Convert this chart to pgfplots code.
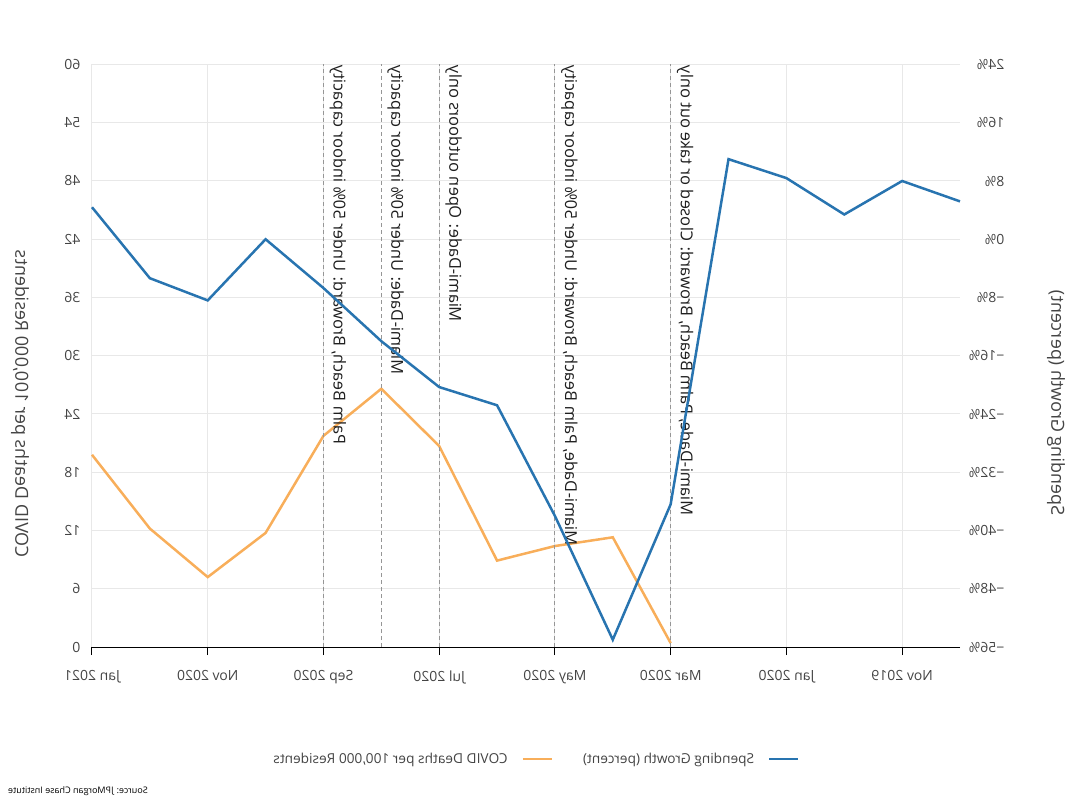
\documentclass[border=0pt]{standalone}
\usepackage{fontspec}
\setmainfont{Open Sans}
\usepackage{graphicx}
\usepackage{pgfplots}
\pgfplotsset{compat=1.18}
\definecolor{cblue}{RGB}{40,116,176}
\definecolor{corange}{RGB}{248,174,90}
\definecolor{tickgray}{RGB}{68,68,68}
\definecolor{gridgray}{RGB}{232,232,232}
\definecolor{dashgray}{RGB}{150,150,150}
\definecolor{annotext}{RGB}{30,30,30}
\newcommand{\rf}[1]{\reflectbox{#1}}

\pgfplotstableread{
m deaths
15 19.8
14 12.2
13 7.2
12 11.75
11 21.75
10 26.6
9 20.7
8 8.9
7 10.4
6 11.3
5 0.4
}\deathstable

\pgfplotstableread{
m spend
15 4.4
14 -5.35
13 -8.4
12 0
11 -6.7
10 -14
9 -20.3
8 -22.8
7 -38
6 -55
5 -36.4
4 11
3 8.4
2 3.4
1 8
0 5.2
}\spendtable

\tikzset{anno/.style={anchor=south west, rotate=-90, inner xsep=1pt, inner ysep=6pt, font=\fontsize{16.4}{18}\selectfont, text=annotext}}

\begin{document}
\begin{tikzpicture}
\useasboundingbox (0,0) rectangle (1071pt,801pt);
\begin{axis}[
  at={(92pt,154pt)}, anchor=south west,
  scale only axis, width=868pt, height=582.5pt,
  x dir=reverse,
  xmin=0, xmax=15, ymin=0, ymax=60,
  axis x line*=bottom, axis y line*=left,
  y axis line style={draw=none},
  x axis line style={black, line width=1pt, -},
  xtick={1,3,5,7,9,11,13,15},
  xticklabels={\rf{Nov 2019},\rf{Jan 2020},\rf{Mar 2020},\rf{May 2020},\rf{Jul 2020},\rf{Sep 2020},\rf{Nov 2020},\rf{Jan 2021}},
  ytick={0,6,12,18,24,30,36,42,48,54,60},
  yticklabels={\rf{0},\rf{6},\rf{12},\rf{18},\rf{24},\rf{30},\rf{36},\rf{42},\rf{48},\rf{54},\rf{60}},
  tick align=outside, major tick length=8pt,
  xtick style={black, line width=1pt},
  ytick style={draw=none},
  xmajorgrids, ymajorgrids, grid style={gridgray, line width=1pt},
  ticklabel style={font=\fontsize{14}{16}\selectfont, text=tickgray},
  yticklabel style={xshift=0pt},
  xticklabel style={yshift=-12pt},
  clip=false,
]
\addplot[corange, line width=2.5pt] table[x=m, y=deaths] {\deathstable};
\addplot[dashgray, dash pattern=on 4pt off 3pt, line width=1pt] coordinates {(11,0) (11,60)};
\addplot[dashgray, dash pattern=on 4pt off 3pt, line width=1pt] coordinates {(10,0) (10,60)};
\addplot[dashgray, dash pattern=on 4pt off 3pt, line width=1pt] coordinates {(9,0) (9,60)};
\addplot[dashgray, dash pattern=on 4pt off 3pt, line width=1pt] coordinates {(7,0) (7,60)};
\addplot[dashgray, dash pattern=on 4pt off 3pt, line width=1pt] coordinates {(5,0) (5,60)};
\node[anno] at (axis cs:11,60) {\rf{Palm Beach, Broward: Under 50\% indoor capacity}};
\node[anno] at (axis cs:10,60) {\rf{Miami-Dade: Under 50\% indoor capacity}};
\node[anno] at (axis cs:9,60) {\rf{Miami-Dade: Open outdoors only}};
\node[anno] at (axis cs:7,60) {\rf{Miami-Dade, Palm Beach, Broward: Under 50\% indoor capacity}};
\node[anno] at (axis cs:5,60) {\rf{Miami-Dade, Palm Beach, Broward: Closed or take out only}};
\end{axis}
\begin{axis}[
  at={(92pt,154pt)}, anchor=south west,
  scale only axis, width=868pt, height=582.5pt,
  x dir=reverse,
  xmin=0, xmax=15, ymin=-56, ymax=24,
  axis x line=none, axis y line*=right,
  y axis line style={draw=none},
  ytick style={draw=none},
  ytick={-56,-48,-40,-32,-24,-16,-8,0,8,16,24},
  yticklabels={\rf{−56\%},\rf{−48\%},\rf{−40\%},\rf{−32\%},\rf{−24\%},\rf{−16\%},\rf{−8\%},\rf{0\%},\rf{8\%},\rf{16\%},\rf{24\%}},
  yticklabel style={anchor=east, xshift=48pt, font=\fontsize{14}{16}\selectfont, text=tickgray},
  legend style={at={(axis description cs:0.511,-0.192)}, anchor=center, draw=none, fill=none,
    font=\fontsize{13.7}{15}\selectfont, text=tickgray,
    /tikz/every even column/.append style={column sep=28pt}},
  legend columns=2,
  legend plot pos=right,
  legend image code/.code={\path (0pt,0pt); \draw[#1] (12pt,0pt) -- (41pt,0pt);},
  clip=false,
]
\addlegendimage{corange, line width=2.5pt}
\addlegendentry{\rf{COVID Deaths per 100,000 Residents}}
\addplot[cblue, line width=2.5pt] table[x=m, y=spend] {\spendtable};
\addlegendentry{\rf{Spending Growth (percent)}}
\end{axis}
\node[rotate=-90, font=\fontsize{18}{20}\selectfont, text=tickgray] at (20pt,397pt) {\rf{COVID Deaths per 100,000 Residents}};
\node[rotate=-90, font=\fontsize{18}{20}\selectfont, text=tickgray] at (1056pt,398pt) {\rf{Spending Growth (percent)}};
\node[anchor=west, inner sep=0pt, font=\fontsize{9}{10}\selectfont, text=black] at (8pt,10pt) {\rf{Source: JPMorgan Chase Institute}};
\end{tikzpicture}
\end{document}
